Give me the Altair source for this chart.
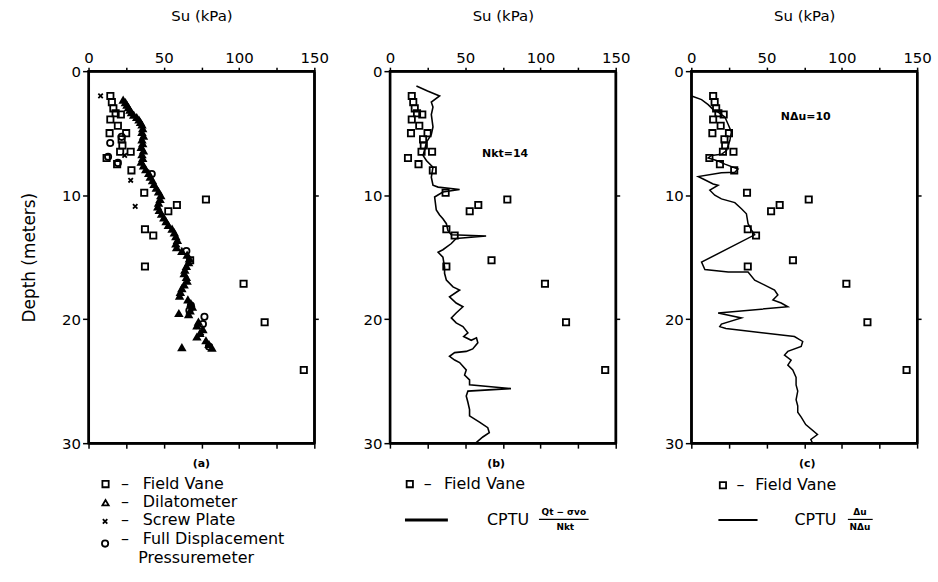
import altair as alt
import pandas as pd

# ---------------- data ----------------
fv_su = [14.5, 15.5, 16.5, 18, 21.5, 14.5, 19.5, 14, 25, 22, 22.5, 21, 28, 12, 19, 28.5,
         37, 78, 58.7, 53, 37.5, 43, 67.5, 37.5, 103, 117, 143]
fv_depth = [2.0, 2.5, 3.0, 3.4, 3.5, 3.9, 4.4, 5.0, 5.0, 5.5, 6.0, 6.5, 6.5, 7.0, 7.5, 8.0,
            9.8, 10.35, 10.8, 11.3, 12.75, 13.25, 15.25, 15.75, 17.15, 20.25, 24.1]

dmt_su = [23, 24.5, 25.5, 26.5, 27.5, 28.5, 30, 32, 33.5, 34.5, 35.5, 36, 35.5, 36.5, 35.5,
          36, 35, 36.5, 35.5, 36, 35, 36.5, 38, 40, 41, 42.5, 43.5, 45, 46.5, 48, 47.5, 46.5,
          46, 47, 48.5, 50, 51.5, 53, 55.5, 57, 58, 59, 58, 58.5, 62, 65.5, 67, 66.5, 65, 64,
          63.5, 65, 65.5, 63.5, 62, 61, 60.5, 66, 68, 69, 67.5, 66.5, 60, 73, 72, 76, 74, 72,
          78, 80, 82, 62]
dmt_depth = [2.3, 2.5, 2.7, 2.9, 3.1, 3.3, 3.5, 3.7, 3.9, 4.1, 4.3, 4.6, 4.9, 5.2, 5.5,
             5.8, 6.1, 6.4, 6.7, 7.0, 7.3, 7.6, 7.9, 8.2, 8.5, 8.8, 9.1, 9.4, 9.7, 10.0, 10.3, 10.6,
             10.9, 11.2, 11.5, 11.8, 12.1, 12.4, 12.7, 13.0, 13.3, 13.6, 13.9, 14.2, 14.5, 14.8, 15.1, 15.4, 15.7, 16.0,
             16.3, 16.6, 16.9, 17.2, 17.5, 17.8, 18.1, 18.4, 18.7, 19.0, 19.3, 19.6, 19.5, 20.2, 20.5, 20.8, 21.1, 21.4,
             21.7, 22.0, 22.3, 22.25]

sp_su = [8, 24, 28, 31, 72.5, 75]
sp_depth = [2.0, 6.8, 8.8, 10.9, 20.6, 21.1]

pm_su = [14.4, 13, 19.5, 22, 42, 65, 68, 77, 67, 80, 76]
pm_depth = [5.8, 6.9, 7.4, 5.3, 8.3, 14.5, 18.9, 19.8, 19.3, 22.2, 20.4]

cptq_su = [17.6, 25, 33, 27.5, 28.6, 27.5, 28.6, 27.5, 24.2, 23, 22, 24.2, 28.6, 27.5, 28.6, 32,
           46.3, 35.2, 29.7, 30.8, 33, 35.2, 37.5, 38.5, 40.8, 63.9, 44, 40.8, 35.2, 32, 35.2,
           36.3, 36.3, 37.5, 41.9, 46.3, 39.6, 44, 48.5, 44, 40.8, 44, 48.5, 51.8, 49, 54, 57.5,
           58.4, 55, 50.7, 43, 39.6, 43, 46.3, 48.5, 50.7, 49.6, 52.9, 52.9, 80.4, 51.8, 50.7,
           51.8, 52.9, 52.9, 59.5, 65, 66, 61.7, 57.3]
cptq_depth = [1.2, 1.6, 2.0, 2.5, 2.9, 3.5, 4.5, 5.1, 5.75, 6.4, 6.8, 7.2, 7.75, 8.55, 9.2, 9.35,
              9.55, 9.75, 10.15, 11.2, 11.6, 11.9, 12.3, 12.85, 13.2, 13.3, 13.5, 13.9, 14.4, 14.6, 15.0,
              15.8, 16.3, 16.85, 17.4, 17.65, 18.2, 18.7, 19.0, 19.5, 19.9, 20.3, 20.6, 21.1, 21.4, 21.7, 21.5,
              21.9, 22.4, 22.6, 22.7, 23.0, 23.3, 23.5, 23.8, 24.1, 24.5, 24.9, 25.3, 25.6, 25.8, 26.2,
              26.7, 27.3, 27.8, 28.3, 28.75, 29.15, 29.5, 29.95]

cptu_su = [0.2, 6.8, 11.2, 14.5, 17.8, 22.3, 24.5, 26.6, 25.6, 24.5, 23.4, 20, 13.4, 11.2, 16.7,
           22.3, 31, 28.9, 20, 4.6, 7.9, 14.5, 17.8, 12.3, 15.6, 20, 28.9, 33.3, 36.6, 37.7, 39.9,
           42.1, 6.8, 9.0, 24.5, 37.7, 42.1, 55.3, 57.5, 54.2, 59.7, 64.1, 17.8, 33.3, 20, 18.9,
           23, 68.5, 74, 73, 64.1, 61.9, 66.3, 64.1, 67.4, 69.6, 69.6, 70.7, 69.6, 70.7, 70.7,
           73, 76, 83.8, 79.4, 80.5]
cptu_depth = [2.0, 2.3, 2.7, 3.1, 3.3, 3.7, 4.3, 4.9, 5.6, 6.0, 6.4, 6.7, 6.8, 7.0, 7.2,
              7.5, 7.9, 8.15, 8.2, 8.5, 8.7, 9.1, 9.2, 9.6, 10.0, 10.3, 10.6, 11.1, 11.5, 12.3, 12.8,
              13.2, 15.4, 16.0, 16.2, 16.2, 16.85, 17.65, 18.05, 18.45, 18.7, 19.0, 19.5, 19.9, 20.4, 20.6,
              20.75, 21.4, 21.8, 22.2, 22.6, 22.9, 23.3, 23.7, 24.1, 24.7, 25.3, 25.8, 26.5, 27.0, 27.5,
              27.9, 28.5, 29.3, 29.7, 30.0]

x_ticks = [0, 25, 50, 75, 100, 125, 150]
y_ticks = [0, 10, 20, 30]
x_domain = [0, 150]
y_domain = [0, 30]

FONT = "DejaVu Sans"
W, H = 227, 374
LEG = 16

xs = alt.Scale(domain=x_domain, nice=False, zero=False)
ys = alt.Scale(domain=y_domain, reverse=True, nice=False, zero=False)

DOM = dict(domain=True, domainColor="black", domainWidth=2)

def top_axis():
    return alt.Axis(orient="top", values=x_ticks, labelExpr="datum.value % 50 == 0 ? datum.label : ''",
                    title="Su (kPa)", titleFont=FONT, titleFontSize=15, titleFontWeight="normal",
                    titlePadding=27, labelFont=FONT, labelFontSize=15, labelPadding=2, tickSize=4,
                    labelOverlap=False, labelFlush=False, grid=False,
                    tickColor="black", labelColor="black", titleColor="black", tickWidth=1.5, **DOM)

def bottom_axis():
    return alt.Axis(orient="bottom", values=x_ticks, labels=False, title=None, tickSize=5,
                    grid=False, tickColor="black", tickWidth=1.5, **DOM)

def left_axis(title):
    kw = dict(orient="left", values=y_ticks, labelFont=FONT, labelFontSize=15, labelPadding=2,
              tickSize=6, grid=False, tickColor="black", labelColor="black", tickWidth=1.5,
              minExtent=26, maxExtent=26, **DOM)
    if title:
        kw.update(title="Depth (meters)", titleFont=FONT, titleFontSize=17, titleFontWeight="normal",
                  titlePadding=24, titleColor="black")
    else:
        kw.update(title=None)
    return alt.Axis(**kw)

def right_axis():
    return alt.Axis(orient="right", values=[10, 20], labels=False, title=None, tickSize=4,
                    grid=False, tickColor="black", tickWidth=1.5, **DOM)

def pts(df, shape, filled=False, size=40, sw=1.8):
    return alt.Chart(df).mark_point(shape=shape, filled=filled, size=size, strokeWidth=sw,
                                    color="black", opacity=1).encode(
        x=alt.X("su:Q", scale=xs, axis=None), y=alt.Y("depth:Q", scale=ys, axis=None))

CROSS = "M-1,-1L1,1M-1,1L1,-1"

fv = pd.DataFrame({"su": fv_su, "depth": fv_depth})
dmt = pd.DataFrame({"su": dmt_su, "depth": dmt_depth})
sp = pd.DataFrame({"su": sp_su, "depth": sp_depth})
pm = pd.DataFrame({"su": pm_su, "depth": pm_depth})
cq = pd.DataFrame({"su": cptq_su, "depth": cptq_depth, "i": list(range(len(cptq_su)))})
cu = pd.DataFrame({"su": cptu_su, "depth": cptu_depth, "i": list(range(len(cptu_su)))})

def axes_layers(first_title):
    base = pd.DataFrame({"su": [0], "depth": [0]})
    a = alt.Chart(base).mark_point(opacity=0).encode(
        x=alt.X("su:Q", scale=xs, axis=top_axis()),
        y=alt.Y("depth:Q", scale=ys, axis=left_axis(first_title)))
    b = alt.Chart(base).mark_point(opacity=0).encode(
        x=alt.X("su:Q", scale=xs, axis=bottom_axis()),
        y=alt.Y("depth:Q", scale=ys, axis=right_axis()))
    return a, b

def frame():
    # plot-area border drawn on top of everything
    return alt.Chart(pd.DataFrame({"k": [0]})).mark_rect(
        fillOpacity=0, stroke="black", strokeWidth=2.2).encode(
        x=alt.value(0), x2=alt.value(W), y=alt.value(0), y2=alt.value(H))

def texts(df, align, size, weight="normal"):
    return alt.Chart(df).mark_text(align=align, baseline="middle", font=FONT, fontSize=size,
                                   fontWeight=weight, color="black").encode(
        x=alt.X("su:Q", scale=xs, axis=None), y=alt.Y("depth:Q", scale=ys, axis=None), text="t:N")

def rules(df, sw):
    return alt.Chart(df).mark_rule(color="black", strokeWidth=sw).encode(
        x=alt.X("su:Q", scale=xs, axis=None), x2="su2:Q", y=alt.Y("depth:Q", scale=ys, axis=None))

# ---------------- panel (a) ----------------
a1, a2 = axes_layers(True)
leg_a_sym = pd.DataFrame({"su": [11.3], "depth": [33.3]})
leg_a_tri = pd.DataFrame({"su": [11.3], "depth": [34.8]})
leg_a_x = pd.DataFrame({"su": [11.0], "depth": [36.3]})
leg_a_o = pd.DataFrame({"su": [11.0], "depth": [38.1]})
leg_a_txt = pd.DataFrame({
    "su": [21.5, 21.5, 21.5, 21.5, 36.0, 36.0, 36.0, 36.0, 33.0],
    "depth": [33.3, 34.75, 36.2, 37.7, 33.3, 34.75, 36.2, 37.7, 39.3],
    "t": ["–", "–", "–", "–", "Field Vane", "Dilatometer", "Screw Plate", "Full Displacement", "Pressuremeter"]})
lab_a = pd.DataFrame({"su": [75], "depth": [31.7], "t": ["(a)"]})

panel_a = alt.layer(
    a1, a2,
    pts(dmt, "triangle-up", filled=True, size=90, sw=1.5),
    pts(fv, "square"),
    pts(sp, CROSS, size=20, sw=1.8),
    pts(pm, "circle"),
    pts(leg_a_sym, "square"),
    pts(leg_a_tri, "triangle-up"),
    pts(leg_a_x, CROSS, size=20, sw=1.8),
    pts(leg_a_o, "circle"),
    texts(leg_a_txt, "left", LEG),
    texts(lab_a, "center", 11, "bold"),
    frame(),
).resolve_axis(x="independent", y="independent").properties(width=W, height=H)

# ---------------- panel (b) ----------------
b1, b2 = axes_layers(False)
line_b = alt.Chart(cq).mark_line(color="black", strokeWidth=1.6).encode(
    x=alt.X("su:Q", scale=xs, axis=None), y=alt.Y("depth:Q", scale=ys, axis=None), order="i:Q")
leg_b_sym = pd.DataFrame({"su": [13.2], "depth": [33.3]})
leg_b_txt = pd.DataFrame({"su": [22.5, 36.0, 64.5], "depth": [33.3, 33.3, 36.2],
                          "t": ["–", "Field Vane", "CPTU"]})
leg_b_frac = pd.DataFrame({"su": [115.5, 116.5], "depth": [35.55, 36.8], "t": ["Qt − σvo", "Nkt"]})
leg_b_line = pd.DataFrame({"su": [10.0], "su2": [38.5], "depth": [36.2]})
leg_b_bar = pd.DataFrame({"su": [99.0], "su2": [132.0], "depth": [36.15]})
lab_b = pd.DataFrame({"su": [70.5], "depth": [31.7], "t": ["(b)"]})
ann_b = pd.DataFrame({"su": [76.5], "depth": [6.65], "t": ["Nkt=14"]})

panel_b = alt.layer(
    b1, b2, line_b,
    pts(fv, "square"),
    pts(leg_b_sym, "square"),
    texts(leg_b_txt, "left", LEG),
    texts(leg_b_frac, "center", 9, "bold"),
    rules(leg_b_line, 3),
    rules(leg_b_bar, 1.2),
    texts(lab_b, "center", 11, "bold"),
    texts(ann_b, "center", 11, "bold"),
    frame(),
).resolve_axis(x="independent", y="independent").properties(width=W, height=H)

# ---------------- panel (c) ----------------
c1, c2 = axes_layers(False)
line_c = alt.Chart(cu).mark_line(color="black", strokeWidth=1.5).encode(
    x=alt.X("su:Q", scale=xs, axis=None), y=alt.Y("depth:Q", scale=ys, axis=None), order="i:Q")
leg_c_sym = pd.DataFrame({"su": [21.0], "depth": [33.4]})
leg_c_txt = pd.DataFrame({"su": [30.0, 42.5, 68.5], "depth": [33.4, 33.4, 36.2],
                          "t": ["–", "Field Vane", "CPTU"]})
leg_c_frac = pd.DataFrame({"su": [112.0, 112.0], "depth": [35.55, 36.8], "t": ["Δu", "NΔu"]})
leg_c_line = pd.DataFrame({"su": [18.0], "su2": [44.0], "depth": [36.2]})
leg_c_bar = pd.DataFrame({"su": [104.0], "su2": [120.5], "depth": [36.15]})
lab_c = pd.DataFrame({"su": [77.0], "depth": [31.7], "t": ["(c)"]})
ann_c = pd.DataFrame({"su": [76.0], "depth": [3.7], "t": ["NΔu=10"]})

panel_c = alt.layer(
    c1, c2, line_c,
    pts(fv, "square"),
    pts(leg_c_sym, "square"),
    texts(leg_c_txt, "left", LEG),
    texts(leg_c_frac, "center", 9, "bold"),
    rules(leg_c_line, 2),
    rules(leg_c_bar, 1.2),
    texts(lab_c, "center", 11, "bold"),
    texts(ann_c, "center", 11, "bold"),
    frame(),
).resolve_axis(x="independent", y="independent").properties(width=W, height=H)

chart = alt.hconcat(panel_a, panel_b, panel_c, spacing=76, bounds="flush").properties(
    background="white", padding={"left": 20, "top": 6, "right": 5, "bottom": 5}
).configure_view(stroke="black", strokeWidth=2)

chart.save("out.html", embed_options={"renderer": "svg", "actions": False})
